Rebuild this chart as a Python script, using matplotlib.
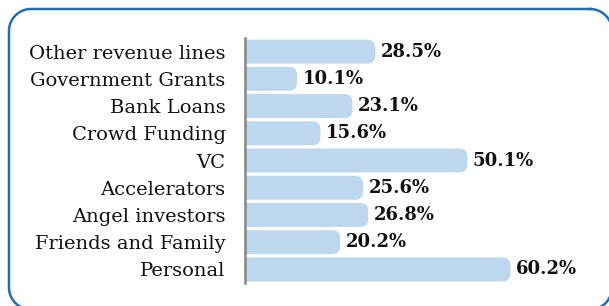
import numpy as np
import matplotlib.pyplot as plt
from matplotlib.patches import FancyBboxPatch

# data (bottom to top)
categories = ["Personal", "Friends and Family", "Angel investors", "Accelerators", "VC",
              "Crowd Funding", "Bank Loans", "Government Grants", "Other revenue lines"]
values = [60.2, 20.2, 26.8, 25.6, 50.1, 15.6, 23.1, 10.1, 28.5]
value_labels = ["60.2%", "20.2%", "26.8%", "25.6%", "50.1%", "15.6%", "23.1%", "10.1%", "28.5%"]

W, H = 609, 306
fig = plt.figure(figsize=(W / 100, H / 100), dpi=100)

# rounded outer frame, drawn in pixel units on a background axes
bg = fig.add_axes([0, 0, 1, 1])
bg.set_xlim(0, W)
bg.set_ylim(H, 0)
bg.axis("off")
fx0, fy0, fx1, fy1, rad = 9, 9, 612, 309.5, 22
t = np.linspace(0, np.pi / 2, 30)
xs, ys = [], []
for cx, cy, a0 in [(fx1 - rad, fy0 + rad, -np.pi / 2), (fx1 - rad, fy1 - rad, 0),
                   (fx0 + rad, fy1 - rad, np.pi / 2), (fx0 + rad, fy0 + rad, np.pi)]:
    xs.extend(cx + rad * np.cos(a0 + t))
    ys.extend(cy + rad * np.sin(a0 + t))
xs.append(xs[0])
ys.append(ys[0])
bg.plot(xs, ys, color="#1f6fb8", lw=1.8, clip_on=False)

left, right, top, bottom = 245, 599, 38, 283
px_x = 4.26                      # pixels per percent
x0 = -9 / px_x                   # bars' zero sits a little right of the axis line
xmax = x0 + (right - left) / px_x
ax = fig.add_axes([left / W, (H - bottom) / H, (right - left) / W, (bottom - top) / H])
ax.set_xlim(x0, xmax)
ax.set_ylim(-0.5, len(categories) - 0.5)

px_y = (bottom - top) / len(categories)
r = 8 / px_x
bh = 0.88
for i, v in enumerate(values):
    p = FancyBboxPatch((x0 - r * 2, i - bh / 2), v - x0 + r * 2, bh,
                       boxstyle=f"round,pad=0,rounding_size={r}",
                       mutation_aspect=px_x / px_y,
                       facecolor="#bdd7ee", edgecolor="none")
    ax.add_patch(p)
    ax.text(v + 5.5 / px_x, i, value_labels[i], va="center", ha="left",
            fontsize=13, fontweight="bold", family="DejaVu Serif", color="#111111")

ax.set_yticks(range(len(categories)))
ax.set_yticklabels(categories, family="DejaVu Serif", fontsize=14, color="#111111")
ax.tick_params(axis="y", length=0, pad=14)
ax.set_xticks([])
for s in ["top", "right", "bottom"]:
    ax.spines[s].set_visible(False)
ax.spines["left"].set_color("#858585")
ax.spines["left"].set_linewidth(1.8)
ax.spines["left"].set_zorder(5)
ax.patch.set_alpha(0)

fig.savefig("out.png", dpi=100)
